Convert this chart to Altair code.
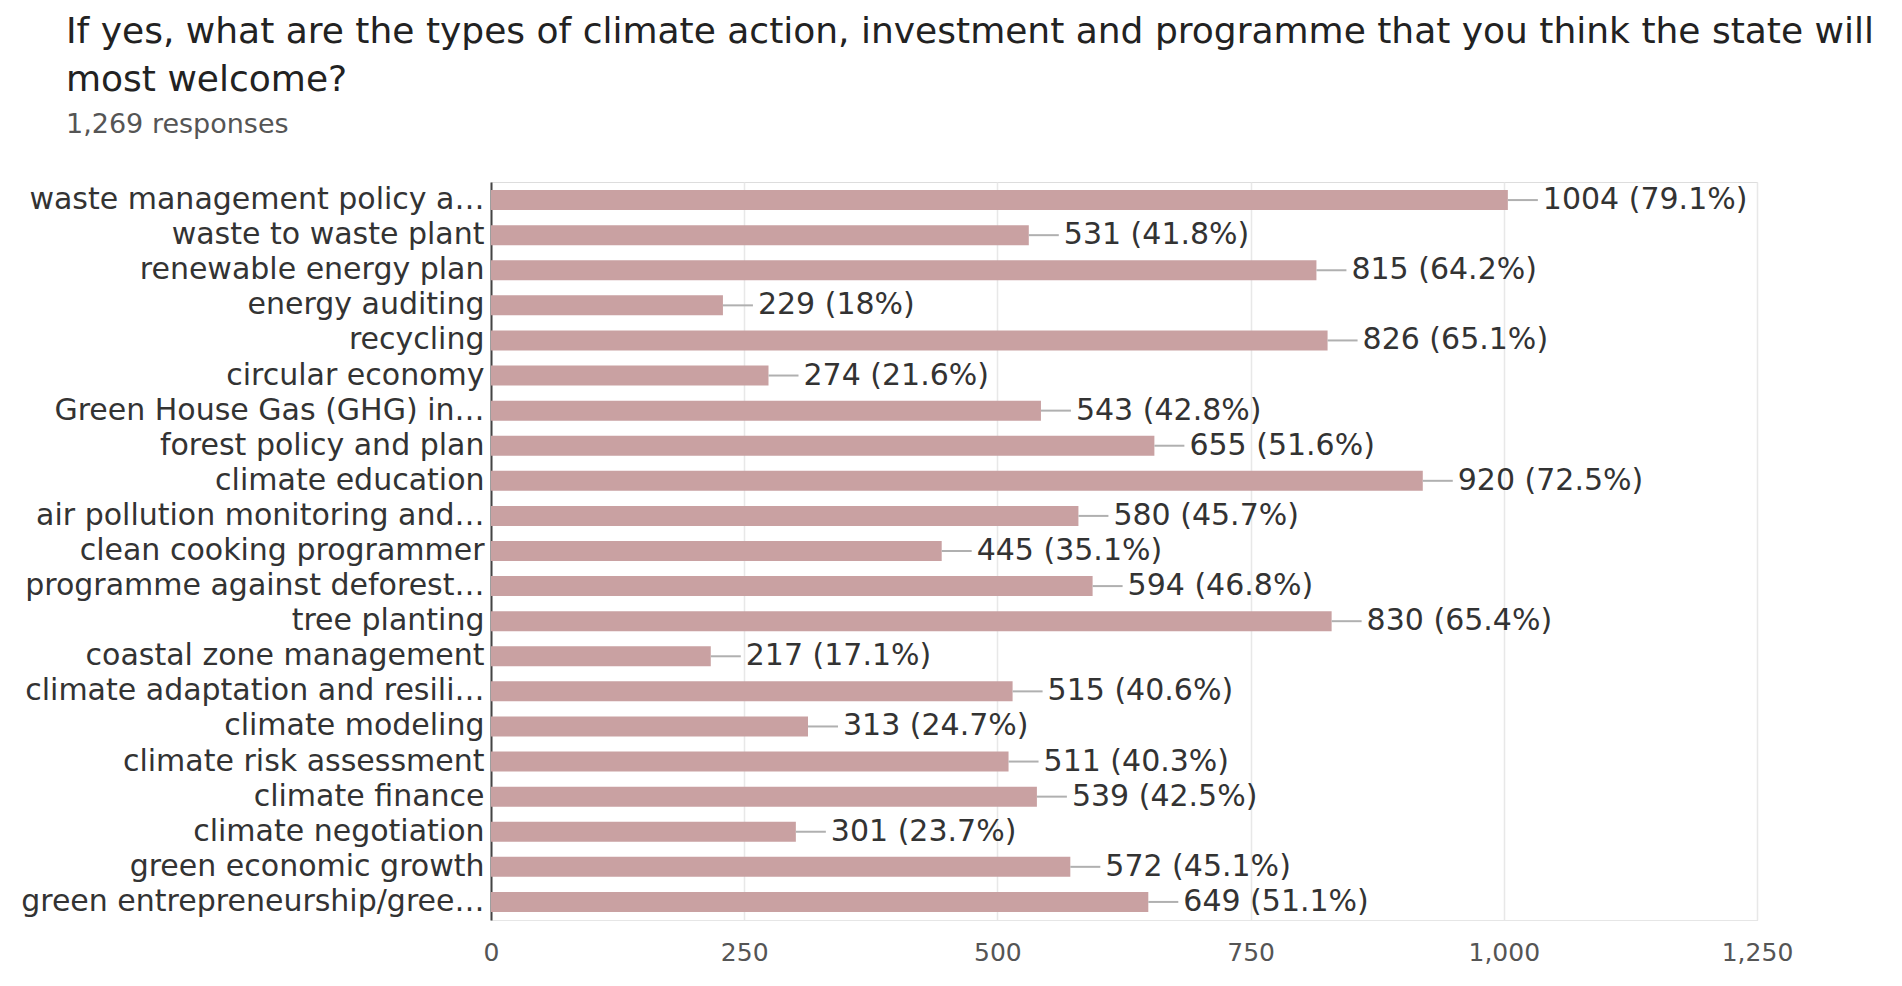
import altair as alt
import pandas as pd

categories = [
    "waste management policy a…",
    "waste to waste plant",
    "renewable energy plan",
    "energy auditing",
    "recycling",
    "circular economy",
    "Green House Gas (GHG) in…",
    "forest policy and plan",
    "climate education",
    "air pollution monitoring and…",
    "clean cooking programmer",
    "programme against deforest…",
    "tree planting",
    "coastal zone management",
    "climate adaptation and resili…",
    "climate modeling",
    "climate risk assessment",
    "climate finance",
    "climate negotiation",
    "green economic growth",
    "green entrepreneurship/gree…",
]
counts = [1004, 531, 815, 229, 826, 274, 543, 655, 920, 580, 445, 594, 830, 217, 515, 313, 511, 539, 301, 572, 649]
percents = ["79.1", "41.8", "64.2", "18", "65.1", "21.6", "42.8", "51.6", "72.5", "45.7", "35.1", "46.8", "65.4", "17.1", "40.6", "24.7", "40.3", "42.5", "23.7", "45.1", "51.1"]
x_ticks = [0, 250, 500, 750, 1000, 1250]

df = pd.DataFrame({"label": categories, "count": counts, "pct": percents})
df["text"] = [f"{c} ({p}%)" for c, p in zip(counts, percents)]

FONT = "DejaVu Sans"

y_enc = alt.Y(
    "label:N",
    sort=None,
    title=None,
    scale=alt.Scale(paddingInner=0.43, paddingOuter=0.23),
    axis=alt.Axis(
        labelFont=FONT,
        labelFontSize=30,
        labelColor="#333333",
        labelLimit=0,
        labelPadding=7,
        ticks=False,
        domain=True,
        domainColor="#444444",
        domainWidth=2,
        grid=False,
    ),
)
x_enc = alt.X(
    "count:Q",
    title=None,
    scale=alt.Scale(domain=[0, 1250], nice=False),
    axis=alt.Axis(
        values=x_ticks,
        format=",d",
        labelFont=FONT,
        labelFontSize=25,
        labelColor="#555555",
        labelPadding=20,
        labelFlush=False,
        ticks=False,
        domain=True,
        domainColor="#e6e6e6",
        grid=True,
        gridColor="#e8e8e8",
        gridWidth=1.5,
    ),
)

bars = alt.Chart(df).mark_bar(color="#c9a1a2").encode(y=y_enc, x=x_enc)

leaders = alt.Chart(df).mark_rule(color="#b0b0b0", strokeWidth=2, x2Offset=30).encode(
    y=alt.Y("label:N", sort=None),
    x=alt.X("count:Q"),
    x2=alt.X2("count"),
)

texts = alt.Chart(df).mark_text(
    align="left", baseline="middle", dx=35, font=FONT, fontSize=30, color="#333333"
).encode(
    y=alt.Y("label:N", sort=None),
    x=alt.X("count:Q"),
    text="text:N",
)

chart = (
    alt.layer(bars, leaders, texts)
    .properties(
        width=1266,
        height=738,
        padding={"left": 12, "top": 6, "right": 0, "bottom": 0},
        title=alt.TitleParams(
            text=[
                "If yes, what are the types of climate action, investment and programme that you think the state will",
                "most welcome?",
            ],
            subtitle="1,269 responses",
            anchor="start",
            frame="group",
            dx=-425,
            font=FONT,
            fontSize=36,
            fontWeight="normal",
            color="#222222",
            lineHeight=48,
            subtitleFont=FONT,
            subtitleFontSize=27,
            subtitleColor="#555555",
            subtitlePadding=13,
            offset=43,
        ),
    )
    .configure_view(stroke=None)
    .configure(background="white")
)

chart.save("out.html", embed_options={"renderer": "svg", "actions": False})
